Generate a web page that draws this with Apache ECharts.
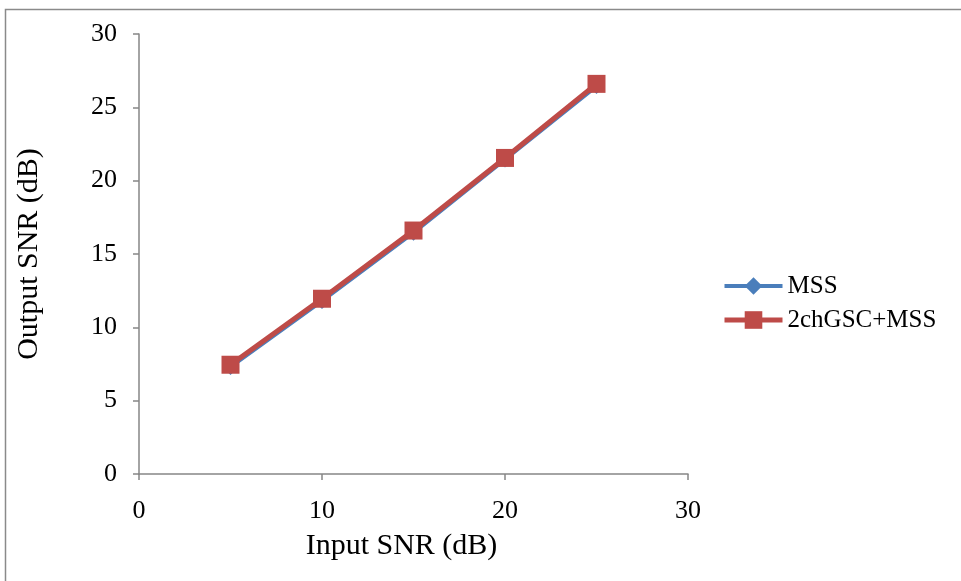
<!DOCTYPE html>
<html><head><meta charset="utf-8">
<script src="https://cdn.jsdelivr.net/npm/echarts@6/dist/echarts.min.js"></script>
<style>html,body{margin:0;padding:0;background:#fff}#c{width:961px;height:581px}</style>
</head><body><div id="c"></div>
<script>
const inputSNR = [5, 10, 15, 20, 25];
const mss = [7.3, 11.8, 16.45, 21.45, 26.45];
const gsc = [7.45, 11.95, 16.6, 21.55, 26.6];
const seriesNames = ['MSS', '2chGSC+MSS'];

const font = 'Liberation Serif';
const chart = echarts.init(document.getElementById('c'));
const axisLine = {lineStyle: {color: '#868686', width: 1.5}};
chart.setOption({
  animation: false,
  textStyle: {fontFamily: font},
  graphic: [{type: 'rect', shape: {x: 5.5, y: 9.5, width: 1000, height: 1000},
    style: {fill: 'none', stroke: '#8a8a8a', lineWidth: 1.5}}],
  grid: {left: 139, right: 961 - 688, top: 34, bottom: 581 - 474},
  legend: {
    orient: 'vertical', left: 717, top: 268, itemGap: 8,
    itemWidth: 58, itemHeight: 22,
    textStyle: {fontFamily: font, fontSize: 25, lineHeight: 26, color: '#000'},
    data: [
      {name: seriesNames[0], lineStyle: {width: 4}},
      {name: seriesNames[1], lineStyle: {width: 5}}
    ]
  },
  xAxis: {
    type: 'value', min: 0, max: 30, interval: 10,
    name: 'Input SNR (dB)', nameLocation: 'middle', nameGap: 57,
    nameTextStyle: {fontFamily: font, fontSize: 30, color: '#000', padding: [0, 24, 0, 0]},
    axisLine: axisLine, axisTick: {show: true, length: 6, lineStyle: {color: '#868686', width: 1.5}},
    axisLabel: {fontFamily: font, fontSize: 26, color: '#000', margin: 24},
    splitLine: {show: false}
  },
  yAxis: {
    type: 'value', min: 0, max: 30, interval: 5,
    name: 'Output SNR (dB)', nameLocation: 'middle', nameGap: 95, nameRotate: 90,
    nameTextStyle: {fontFamily: font, fontSize: 30, color: '#000'},
    axisLine: {show: true, lineStyle: {color: '#868686', width: 1.5}},
    axisTick: {show: true, length: 6, lineStyle: {color: '#868686', width: 1.5}},
    axisLabel: {fontFamily: font, fontSize: 26, color: '#000', margin: 22},
    splitLine: {show: false}
  },
  series: [
    {name: seriesNames[0], type: 'line', data: inputSNR.map((x, i) => [x, mss[i]]),
     symbol: 'diamond', symbolSize: 16, lineStyle: {color: '#4a7ebb', width: 4},
     itemStyle: {color: '#4a7ebb'}},
    {name: seriesNames[1], type: 'line', data: inputSNR.map((x, i) => [x, gsc[i]]),
     symbol: 'rect', symbolSize: 18, lineStyle: {color: '#be4b48', width: 5},
     itemStyle: {color: '#be4b48'}}
  ]
});
</script></body></html>
